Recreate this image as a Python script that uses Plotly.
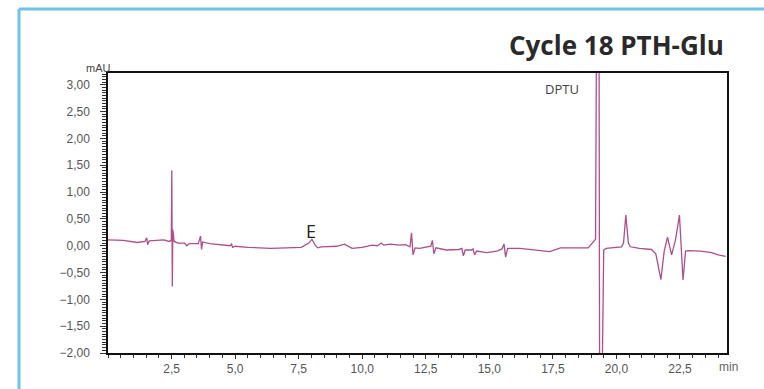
import plotly.graph_objects as go

# retention time (min) and absorbance (mAU)
time_min = [0.00, 0.60, 1.16, 1.45, 1.52, 1.56, 1.62, 2.20, 2.40, 2.49, 2.51, 2.53, 2.55, 2.60,
            2.75, 3.01, 3.10, 3.20, 3.55, 3.64, 3.68, 3.72, 4.00, 4.50, 4.80, 4.86, 4.90, 5.00,
            5.50, 6.40, 7.00, 7.60, 7.90, 8.02, 8.15, 8.25, 8.40, 9.00, 9.30, 9.60, 10.00,
            10.40, 10.60, 10.75, 10.85, 11.10, 11.48, 11.70, 11.88, 11.94, 12.00, 12.08, 12.26,
            12.55, 12.70, 12.76, 12.82, 12.90, 13.31, 13.80, 13.92, 13.98, 14.05, 14.30, 14.36,
            14.42, 14.50, 14.89, 15.30, 15.50, 15.58, 15.64, 15.72, 16.20, 16.80, 17.38, 17.80,
            18.60, 18.89, 19.00, 19.18, 19.29, 19.35, 19.50, 19.60, 20.20, 20.28, 20.37, 20.47,
            20.55, 20.90, 21.38, 21.55, 21.75, 21.88, 22.01, 22.17, 22.32, 22.48, 22.62, 22.72,
            22.83, 23.30, 23.75, 24.00, 24.30]
absorbance = [0.11, 0.10, 0.06, 0.08, 0.15, 0.02, 0.09, 0.11, 0.08, 0.10, 1.40, -0.76, 0.30, 0.08,
              0.05, 0.05, 0.00, 0.04, 0.04, 0.18, -0.07, 0.07, 0.04, 0.02, 0.00, 0.03, -0.03, -0.01,
              -0.03, -0.05, -0.04, -0.03, 0.05, 0.12, 0.01, -0.04, -0.02, -0.01, 0.03, -0.05, -0.03,
              0.01, 0.00, 0.05, 0.01, 0.03, 0.01, 0.02, -0.02, 0.24, -0.17, -0.04, -0.05,
              -0.03, -0.01, 0.10, -0.15, -0.04, -0.08, -0.07, -0.05, -0.19, -0.08, -0.08, -0.06,
              -0.17, -0.10, -0.13, -0.10, -0.06, 0.03, -0.21, -0.05, -0.05, -0.08, -0.11, -0.04,
              -0.03, -0.04, 0.02, 0.12, 12.0, -6.0, -0.08, -0.05, -0.02, 0.05, 0.57, 0.05,
              -0.02, -0.05, -0.07, -0.15, -0.63, -0.10, 0.16, -0.17, 0.10, 0.57, -0.64, -0.10,
              -0.09, -0.10, -0.13, -0.17, -0.20]

x_tickvals = [2.5, 5.0, 7.5, 10.0, 12.5, 15.0, 17.5, 20.0, 22.5]
y_tickvals = [3.0, 2.5, 2.0, 1.5, 1.0, 0.5, 0.0, -0.5, -1.0, -1.5, -2.0]

peak_labels = ["E", "DPTU"]
peak_label_x = [8.0, 17.85]
peak_label_y = [0.28, 2.92]

title_text = "Cycle 18 PTH-Glu"

W, H = 764, 389
ML, MR, MT, MB = 108, 37, 73, 36
pw, ph = W - ML - MR, H - MT - MB

def px_to_paper_x(px):
    return (px - ML) / pw

def py_to_paper_y(py):
    return (H - MB - py) / ph

fig = go.Figure()
fig.add_trace(go.Scatter(
    x=time_min, y=absorbance, mode="lines",
    line=dict(color="#b04d8c", width=1.3),
    showlegend=False, hoverinfo="x+y",
))

tick_font = dict(family="Liberation Sans, Arial, sans-serif", size=12, color="#555555")

fig.update_xaxes(
    range=[0, 24.35], tickvals=x_tickvals, tickformat=".1f",
    showgrid=False, zeroline=False,
    showline=True, linecolor="#111111", linewidth=1.5, mirror=True,
    ticks="outside", ticklen=4, tickcolor="#333333", tickwidth=1,
    minor=dict(dtick=0.5, tick0=0, ticks="outside", ticklen=3, tickcolor="#333333"),
    tickfont=tick_font,
)
fig.update_yaxes(
    range=[-2.0, 3.22], tickvals=y_tickvals, tickformat=".2f",
    showgrid=False, zeroline=False,
    showline=True, linecolor="#111111", linewidth=1.5, mirror=True,
    ticks="outside", ticklen=6, tickcolor="#333333", tickwidth=1,
    minor=dict(dtick=0.05, tick0=0, ticks="outside", ticklen=4, tickcolor="#333333"),
    tickfont=tick_font, ticklabelstandoff=8,
)

annotations = [
    dict(x=peak_label_x[0], y=peak_label_y[0], text=peak_labels[0], showarrow=False,
         xref="x", yref="y", font=dict(family="Open Sans, sans-serif", size=18, color="#222222")),
    dict(x=peak_label_x[1], y=peak_label_y[1], text=peak_labels[1], showarrow=False,
         xref="x", yref="y", xanchor="center",
         font=dict(family="Open Sans, sans-serif", size=13, color="#444444")),
    dict(x=px_to_paper_x(726), y=py_to_paper_y(45), xref="paper", yref="paper", text="<b>" + title_text + "</b>",
         showarrow=False, xanchor="right", yanchor="middle",
         font=dict(family="Open Sans, sans-serif", size=26, color="#2a2a2a")),
    dict(x=px_to_paper_x(98), y=py_to_paper_y(68), xref="paper", yref="paper", text="mAU",
         showarrow=False, xanchor="center", yanchor="middle",
         font=dict(family="Liberation Sans, Arial, sans-serif", size=11, color="#444444")),
    dict(x=px_to_paper_x(729), y=py_to_paper_y(367), xref="paper", yref="paper", text="min",
         showarrow=False, xanchor="center", yanchor="middle",
         font=dict(family="Liberation Sans, Arial, sans-serif", size=12, color="#666666")),
]

frame_color = "#6cc4ea"
shapes = [
    dict(type="line", xref="paper", yref="paper",
         x0=px_to_paper_x(19), x1=px_to_paper_x(19), y0=py_to_paper_y(395), y1=py_to_paper_y(9),
         line=dict(color=frame_color, width=3)),
    dict(type="line", xref="paper", yref="paper",
         x0=px_to_paper_x(19), x1=px_to_paper_x(770), y0=py_to_paper_y(9), y1=py_to_paper_y(9),
         line=dict(color=frame_color, width=3)),
]

fig.update_layout(
    width=W, height=H,
    margin=dict(l=ML, r=MR, t=MT, b=MB),
    paper_bgcolor="white", plot_bgcolor="white",
    separators=", ",
    annotations=annotations, shapes=shapes,
    showlegend=False,
)

fig.write_html("out.html")
